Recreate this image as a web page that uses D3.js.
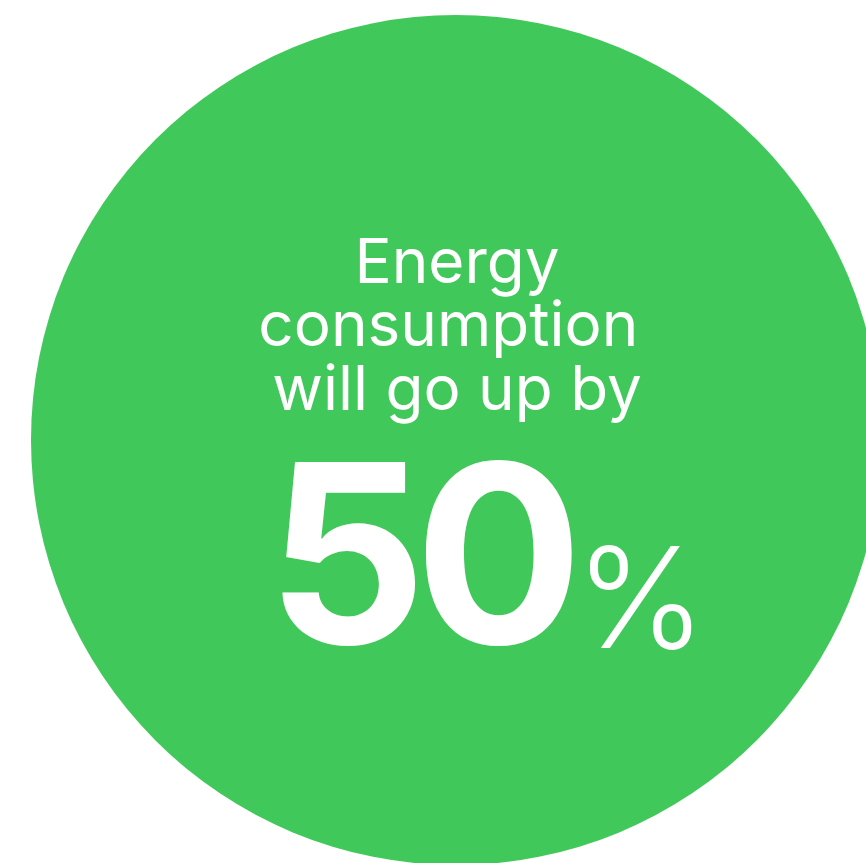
<!DOCTYPE html>
<html>
<head>
    <title>Energy consumption bubble</title>
    <script src="https://d3js.org/d3.v7.min.js"></script>
    <style>
        body { margin: 0; background: #fff; }
        svg text { font-family: Inter, "Liberation Sans", Arial, sans-serif; fill: #fff; }
    </style>
</head>
<body>
    <div id="chart"></div>

    <script type="text/javascript">
        // chart data
        var captionLines = ["Energy", "consumption ", "will go up by"];
        var growthValue = [50];
        var unitLabel = ["%"];

        var width = 866, height = 863;
        var cx = 456, cy = 440, radius = 425;

        var svg = d3.select("#chart").append("svg")
            .attr("width", width)
            .attr("height", height);

        // the bubble
        svg.append("circle")
            .attr("cx", cx)
            .attr("cy", cy)
            .attr("r", radius)
            .style("fill", "#40c95a");

        // caption lines, one per row
        var lineY = d3.scaleBand()
            .domain(d3.range(captionLines.length))
            .range([236, 427]);

        svg.selectAll("text.caption")
            .data(captionLines)
            .enter()
            .append("text")
            .attr("class", "caption")
            .attr("x", cx + 1)
            .attr("y", function(d, i) { return lineY(i) + lineY.bandwidth() - 17; })
            .attr("text-anchor", "middle")
            .style("white-space", "pre")
            .style("font-size", "62px")
            .text(function(d) { return d; });

        // big number
        svg.selectAll("text.value")
            .data(growthValue)
            .enter()
            .append("text")
            .attr("class", "value")
            .attr("x", 571)
            .attr("y", 644)
            .attr("text-anchor", "end")
            .style("font-size", "250px")
            .style("font-weight", "bold")
            .style("letter-spacing", "-12px")
            .text(function(d) { return d; });

        svg.selectAll("text.unit")
            .data(unitLabel)
            .enter()
            .append("text")
            .attr("class", "unit")
            .attr("x", 575)
            .attr("y", 648)
            .style("font-size", "140px")
            .style("font-weight", "300")
            .text(function(d) { return d; });
    </script>
</body>
</html>
